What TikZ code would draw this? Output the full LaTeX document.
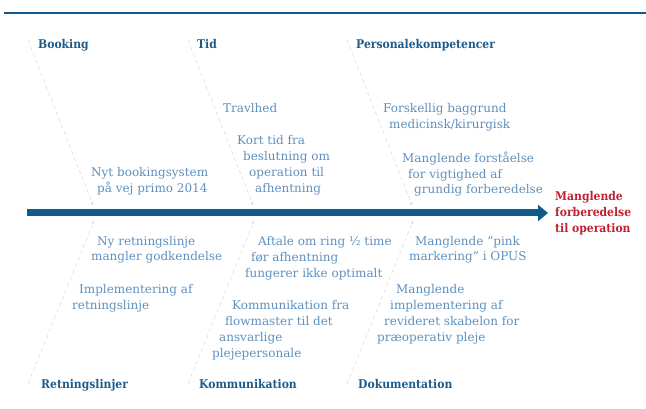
\documentclass[tikz,border=0pt]{standalone}
\usepackage{fontspec}
\setmainfont{DejaVu Serif}[Ligatures=ResetAll]
\newfontfamily\headfont{DejaVu Serif Condensed}
\usetikzlibrary{arrows.meta,positioning}
\definecolor{spineblue}{HTML}{0F5A8C}
\definecolor{headblue}{HTML}{1B5B8C}
\definecolor{causeblue}{HTML}{5E90BE}
\definecolor{effectred}{HTML}{C21F30}
\definecolor{bonegray}{HTML}{D2D2D2}
\newcommand\shiftby[1]{\hspace*{#1pt}}
\tikzset{
    category/.style={
    anchor=base west,inner sep=0pt,text=headblue,font=\headfont\bfseries\fontsize{12}{16}\selectfont
    },
    cause/.style={
    anchor=base west,inner sep=0pt,align=left,text=causeblue,font=\fontsize{12}{16}\selectfont
    },
    effect/.style={
    anchor=base west,inner sep=0pt,align=left,text=effectred,font=\headfont\bfseries\fontsize{12}{16}\selectfont
    },
    bone/.style={
    draw=bonegray,dash pattern=on 4pt off 3pt,-{Stealth[length=3pt,width=3pt]}
    },
    spine/.style={
    draw=spineblue,line width=7pt,-{Triangle[length=10pt,width=16pt]}
    },
}
\begin{document}
\begin{tikzpicture}[x=1pt,y=-1pt]
   \useasboundingbox (0,0) rectangle (646,409);
   \draw[spineblue,line width=2.5pt] (4,13) -- (646,13);

   % spine
   \coordinate (tail) at (27,213);
   \coordinate (head) at (548,213);
   \draw[spine] (tail) -- (head);
   \node[effect] (problem) at (555,233) {Manglende\\forberedelse\\til operation};

   % bones
   \coordinate (booking) at (28,40);   \coordinate (booking end) at (93,205);
   \coordinate (tid) at (188,40);      \coordinate (tid end) at (253,205);
   \coordinate (personale) at (347,40); \coordinate (personale end) at (412,205);
   \coordinate (retning) at (28,384);  \coordinate (retning end) at (94,221);
   \coordinate (komm) at (188,384);    \coordinate (komm end) at (254,221);
   \coordinate (doku) at (347,384);    \coordinate (doku end) at (413,221);
   \path (booking) edge[bone] (booking end)
         (tid) edge[bone] (tid end)
         (personale) edge[bone] (personale end)
         (retning) edge[bone] (retning end)
         (komm) edge[bone] (komm end)
         (doku) edge[bone] (doku end);

   % categories
   \node[category] (cat booking) at (38,49) {Booking};
   \node[category] (cat tid) at (197,49) {Tid};
   \node[category] (cat personale) at (356,49) {Personalekompetencer};
   \node[category] (cat retning) at (41,388) {Retningslinjer};
   \node[category] (cat komm) at (199,388) {Kommunikation};
   \node[category] (cat doku) at (358,388) {Dokumentation};

   % causes above (placed at baseline of last line)
   \node[cause] (nyt) at (91,193) {Nyt bookingsystem\\\shiftby{6}på vej primo 2014};
   \node[cause] (travlhed) at (223,113) {Travlhed};
   \node[cause] (kort) at (237,193) {Kort tid fra\\\shiftby{6}beslutning om\\\shiftby{12}operation til\\\shiftby{18}afhentning};
   \node[cause] (forskellig) at (383,129) {Forskellig baggrund\\\shiftby{6}medicinsk/kirurgisk};
   \node[cause] (forstaaelse) at (402,194) {Manglende forståelse\\\shiftby{6}for vigtighed af\\\shiftby{12}grundig forberedelse};

   % causes below
   \node[cause] (ny) at (91,261) {\shiftby{6}Ny retningslinje\\mangler godkendelse};
   \node[cause] (impl) at (72,309) {\shiftby{7}Implementering af\\retningslinje};
   \node[cause] (aftale) at (245,277) {\shiftby{13}Aftale om ring ½ time\\\shiftby{6}før afhentning\\fungerer ikke optimalt};
   \node[cause] (flow) at (212,357) {\shiftby{20}Kommunikation fra\\\shiftby{13}flowmaster til det\\\shiftby{7}ansvarlige\\plejepersonale};
   \node[cause] (pink) at (409,261) {\shiftby{6}Manglende "pink\\markering" i OPUS};
   \node[cause] (skabelon) at (377,341) {\shiftby{19}Manglende\\\shiftby{13}implementering af\\\shiftby{7}revideret skabelon for\\præoperativ pleje};
\end{tikzpicture}
\end{document}
